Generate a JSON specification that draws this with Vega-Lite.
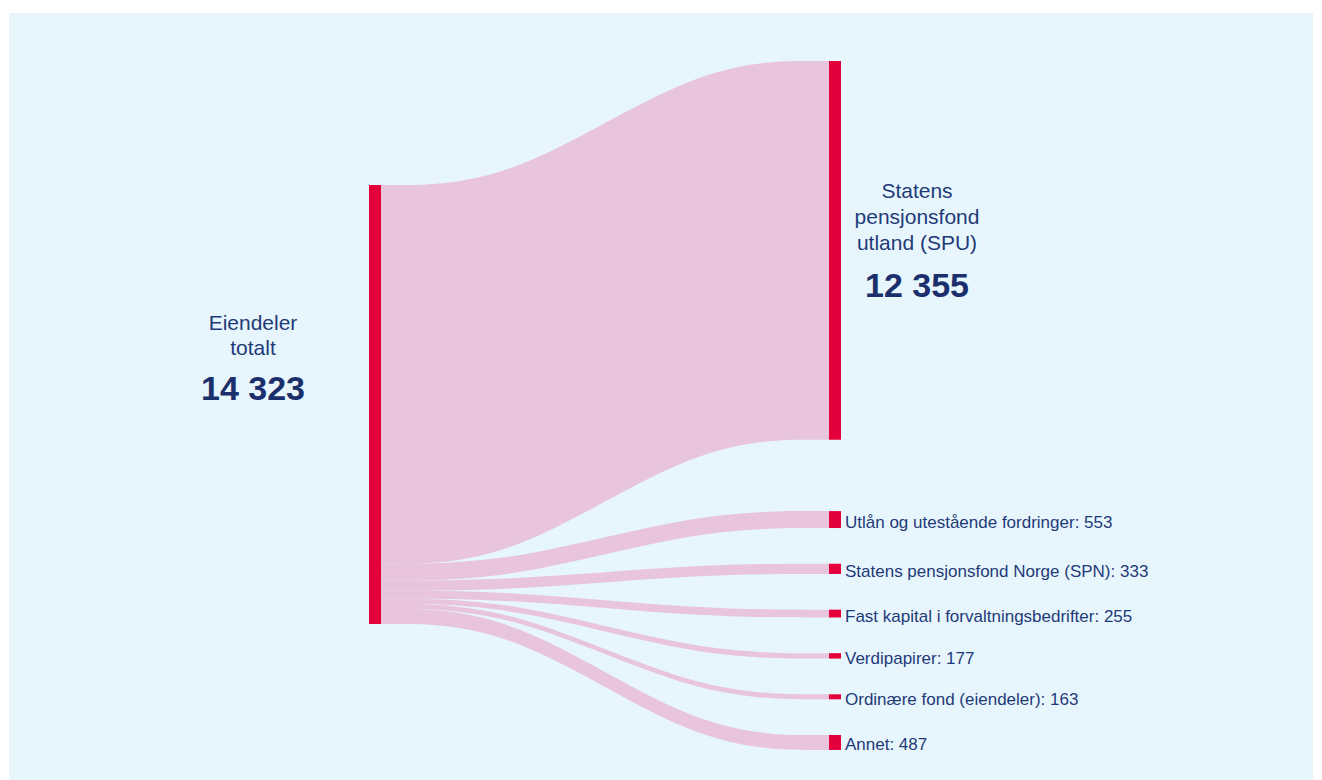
{
  "$schema": "https://vega.github.io/schema/vega-lite/v6.json",
  "width": 1322,
  "height": 780,
  "autosize": {"type": "fit", "contains": "padding"},
  "padding": {"left": 9, "top": 13, "right": 9, "bottom": 0},
  "background": "#ffffff",
  "config": {
    "view": {"fill": "#e7f6fd", "stroke": null},
    "locale": {"number": {"decimal": ",", "thousands": " ", "grouping": [3], "currency": ["", " kr"]}},
    "text": {"font": "Liberation Sans", "color": "#1f3a78"}
  },
  "data": {
    "values": [
      {"order": 0, "name": "Statens pensjonsfond utland (SPU)", "value": 12355},
      {"order": 1, "name": "Utlån og utestående fordringer", "value": 553},
      {"order": 2, "name": "Statens pensjonsfond Norge (SPN)", "value": 333},
      {"order": 3, "name": "Fast kapital i forvaltningsbedrifter", "value": 255},
      {"order": 4, "name": "Verdipapirer", "value": 177},
      {"order": 5, "name": "Ordinære fond (eiendeler)", "value": 163},
      {"order": 6, "name": "Annet", "value": 487}
    ]
  },
  "transform": [
    {"window": [{"op": "sum", "field": "value", "as": "cum"}], "sort": [{"field": "order", "order": "ascending"}], "frame": [null, 0]},
    {"calculate": "datum.cum - datum.value", "as": "s0"},
    {"calculate": "datum.s0 - 4046 + 1165 * (datum.order + (datum.order > 0 ? 1 : 0))", "as": "r0"},
    {"calculate": "datum.r0 + datum.value", "as": "r1"},
    {"calculate": "datum.r0 + datum.value / 2", "as": "rm"},
    {"calculate": "datum.name + ': ' + datum.value", "as": "lbl"}
  ],
  "layer": [
    {
      "transform": [
        {"calculate": "datum.s0", "as": "p0"},
        {"calculate": "datum.s0", "as": "p1"},
        {"calculate": "datum.r0", "as": "p2"},
        {"calculate": "datum.r0", "as": "p3"},
        {"fold": ["p0", "p1", "p2", "p3"], "as": ["pt", "ya"]},
        {"calculate": "datum.ya + datum.value", "as": "yb"},
        {"calculate": "datum.pt == 'p0' ? 0 : (datum.pt == 'p1' ? 0.29 : (datum.pt == 'p2' ? 0.71 : 1))", "as": "xs"}
      ],
      "mark": {"type": "area", "interpolate": "basis", "color": "#e8c5dc", "opacity": 1},
      "encoding": {
        "x": {"field": "xs", "type": "quantitative", "scale": {"domain": [0, 1], "range": [372, 820], "nice": false, "zero": false}, "axis": null},
        "y": {"field": "ya", "type": "quantitative", "scale": {"domain": [0, 14323], "range": [172, 611], "nice": false, "zero": false}, "axis": null},
        "y2": {"field": "yb"},
        "detail": {"field": "name", "type": "nominal"}
      }
    },
    {
      "transform": [
        {"aggregate": [{"op": "sum", "field": "value", "as": "total"}]},
        {"calculate": "0", "as": "z"}
      ],
      "mark": {"type": "rect", "color": "#e4003a", "xOffset": -12},
      "encoding": {
        "x": {"datum": 0, "type": "quantitative"},
        "x2": {"datum": 0},
        "y": {"field": "z", "type": "quantitative"},
        "y2": {"field": "total"}
      }
    },
    {
      "mark": {"type": "rect", "color": "#e4003a", "x2Offset": 12},
      "encoding": {
        "x": {"datum": 1, "type": "quantitative"},
        "x2": {"datum": 1},
        "y": {"field": "r0", "type": "quantitative"},
        "y2": {"field": "r1"}
      }
    },
    {
      "transform": [
        {"aggregate": [{"op": "sum", "field": "value", "as": "total"}]},
        {"calculate": "datum.total / 2", "as": "mid"}
      ],
      "mark": {"type": "text", "align": "center", "baseline": "alphabetic", "dx": -128, "dy": -75, "fontSize": 21, "lineHeight": 25},
      "encoding": {
        "x": {"datum": 0, "type": "quantitative"},
        "y": {"field": "mid", "type": "quantitative"},
        "text": {"value": ["Eiendeler", "totalt"]}
      }
    },
    {
      "transform": [
        {"aggregate": [{"op": "sum", "field": "value", "as": "total"}]},
        {"calculate": "datum.total / 2", "as": "mid"}
      ],
      "mark": {"type": "text", "align": "center", "baseline": "alphabetic", "dx": -128, "dy": -4.5, "fontSize": 34, "fontWeight": "bold", "color": "#1a2f6b"},
      "encoding": {
        "x": {"datum": 0, "type": "quantitative"},
        "y": {"field": "mid", "type": "quantitative"},
        "text": {"field": "total", "type": "quantitative", "format": ","}
      }
    },
    {
      "transform": [{"filter": "datum.order == 0"}],
      "mark": {"type": "text", "align": "center", "baseline": "alphabetic", "dx": 88, "dy": -52, "fontSize": 21, "lineHeight": 26},
      "encoding": {
        "x": {"datum": 1, "type": "quantitative"},
        "y": {"field": "rm", "type": "quantitative"},
        "text": {"value": ["Statens", "pensjonsfond", "utland (SPU)"]}
      }
    },
    {
      "transform": [{"filter": "datum.order == 0"}],
      "mark": {"type": "text", "align": "center", "baseline": "alphabetic", "dx": 88, "dy": 47, "fontSize": 34, "fontWeight": "bold", "color": "#1a2f6b"},
      "encoding": {
        "x": {"datum": 1, "type": "quantitative"},
        "y": {"field": "rm", "type": "quantitative"},
        "text": {"field": "value", "type": "quantitative", "format": ","}
      }
    },
    {
      "transform": [{"filter": "datum.order > 0"}],
      "mark": {"type": "text", "align": "left", "baseline": "middle", "dx": 16, "dy": 3, "fontSize": 17},
      "encoding": {
        "x": {"datum": 1, "type": "quantitative"},
        "y": {"field": "rm", "type": "quantitative"},
        "text": {"field": "lbl"}
      }
    }
  ]
}
